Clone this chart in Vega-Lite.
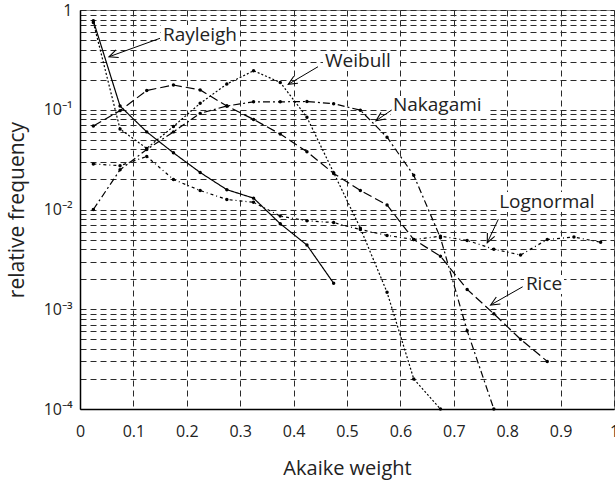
{
  "$schema": "https://vega.github.io/schema/vega-lite/v6.json",
  "width": 534,
  "height": 399,
  "autosize": "none",
  "padding": {"left": 80, "top": 10, "right": 1, "bottom": 81},
  "background": "white",
  "config": {
    "font": "Open Sans",
    "view": {"stroke": "#888", "strokeWidth": 1}
  },
  "datasets": {
    "freq": [
      {"dist": "Rayleigh", "w": 0.025, "f": 0.78},
      {"dist": "Rayleigh", "w": 0.075, "f": 0.109},
      {"dist": "Rayleigh", "w": 0.125, "f": 0.060},
      {"dist": "Rayleigh", "w": 0.175, "f": 0.037},
      {"dist": "Rayleigh", "w": 0.225, "f": 0.0235},
      {"dist": "Rayleigh", "w": 0.275, "f": 0.0158},
      {"dist": "Rayleigh", "w": 0.325, "f": 0.013},
      {"dist": "Rayleigh", "w": 0.375, "f": 0.0072},
      {"dist": "Rayleigh", "w": 0.425, "f": 0.0044},
      {"dist": "Rayleigh", "w": 0.475, "f": 0.00182},

      {"dist": "Weibull", "w": 0.025, "f": 0.75},
      {"dist": "Weibull", "w": 0.075, "f": 0.064},
      {"dist": "Weibull", "w": 0.125, "f": 0.041},
      {"dist": "Weibull", "w": 0.175, "f": 0.068},
      {"dist": "Weibull", "w": 0.225, "f": 0.116},
      {"dist": "Weibull", "w": 0.275, "f": 0.181},
      {"dist": "Weibull", "w": 0.325, "f": 0.246},
      {"dist": "Weibull", "w": 0.375, "f": 0.188},
      {"dist": "Weibull", "w": 0.425, "f": 0.084},
      {"dist": "Weibull", "w": 0.475, "f": 0.0234},
      {"dist": "Weibull", "w": 0.525, "f": 0.0065},
      {"dist": "Weibull", "w": 0.575, "f": 0.00148},
      {"dist": "Weibull", "w": 0.625, "f": 0.0002},
      {"dist": "Weibull", "w": 0.675, "f": 0.0001},

      {"dist": "Nakagami", "w": 0.025, "f": 0.010},
      {"dist": "Nakagami", "w": 0.075, "f": 0.025},
      {"dist": "Nakagami", "w": 0.125, "f": 0.040},
      {"dist": "Nakagami", "w": 0.175, "f": 0.060},
      {"dist": "Nakagami", "w": 0.225, "f": 0.092},
      {"dist": "Nakagami", "w": 0.275, "f": 0.109},
      {"dist": "Nakagami", "w": 0.325, "f": 0.120},
      {"dist": "Nakagami", "w": 0.375, "f": 0.120},
      {"dist": "Nakagami", "w": 0.425, "f": 0.121},
      {"dist": "Nakagami", "w": 0.475, "f": 0.115},
      {"dist": "Nakagami", "w": 0.525, "f": 0.099},
      {"dist": "Nakagami", "w": 0.575, "f": 0.053},
      {"dist": "Nakagami", "w": 0.625, "f": 0.022},
      {"dist": "Nakagami", "w": 0.675, "f": 0.0052},
      {"dist": "Nakagami", "w": 0.725, "f": 0.00061},
      {"dist": "Nakagami", "w": 0.775, "f": 0.0001},

      {"dist": "Lognormal", "w": 0.025, "f": 0.0286},
      {"dist": "Lognormal", "w": 0.075, "f": 0.0275},
      {"dist": "Lognormal", "w": 0.125, "f": 0.034},
      {"dist": "Lognormal", "w": 0.175, "f": 0.020},
      {"dist": "Lognormal", "w": 0.225, "f": 0.0155},
      {"dist": "Lognormal", "w": 0.275, "f": 0.0126},
      {"dist": "Lognormal", "w": 0.325, "f": 0.0118},
      {"dist": "Lognormal", "w": 0.375, "f": 0.0086},
      {"dist": "Lognormal", "w": 0.425, "f": 0.0077},
      {"dist": "Lognormal", "w": 0.475, "f": 0.0074},
      {"dist": "Lognormal", "w": 0.525, "f": 0.0063},
      {"dist": "Lognormal", "w": 0.575, "f": 0.0055},
      {"dist": "Lognormal", "w": 0.625, "f": 0.0050},
      {"dist": "Lognormal", "w": 0.675, "f": 0.0054},
      {"dist": "Lognormal", "w": 0.725, "f": 0.0049},
      {"dist": "Lognormal", "w": 0.775, "f": 0.0040},
      {"dist": "Lognormal", "w": 0.825, "f": 0.0035},
      {"dist": "Lognormal", "w": 0.875, "f": 0.0050},
      {"dist": "Lognormal", "w": 0.925, "f": 0.0053},
      {"dist": "Lognormal", "w": 0.975, "f": 0.0047},

      {"dist": "Rice", "w": 0.025, "f": 0.0687},
      {"dist": "Rice", "w": 0.075, "f": 0.098},
      {"dist": "Rice", "w": 0.125, "f": 0.156},
      {"dist": "Rice", "w": 0.175, "f": 0.177},
      {"dist": "Rice", "w": 0.225, "f": 0.158},
      {"dist": "Rice", "w": 0.275, "f": 0.109},
      {"dist": "Rice", "w": 0.325, "f": 0.080},
      {"dist": "Rice", "w": 0.375, "f": 0.057},
      {"dist": "Rice", "w": 0.425, "f": 0.038},
      {"dist": "Rice", "w": 0.475, "f": 0.023},
      {"dist": "Rice", "w": 0.525, "f": 0.0155},
      {"dist": "Rice", "w": 0.575, "f": 0.0111},
      {"dist": "Rice", "w": 0.625, "f": 0.0050},
      {"dist": "Rice", "w": 0.675, "f": 0.0034},
      {"dist": "Rice", "w": 0.725, "f": 0.00158},
      {"dist": "Rice", "w": 0.775, "f": 0.00090},
      {"dist": "Rice", "w": 0.825, "f": 0.00050},
      {"dist": "Rice", "w": 0.875, "f": 0.00030}
    ],
    "labels": [
      {"dist": "Rayleigh", "w": 0.1554, "f": 0.5615, "w1": 0.1517, "w2": 0.2996, "f1": 0.707, "f2": 0.426},
      {"dist": "Weibull", "w": 0.4588, "f": 0.308, "w1": 0.455, "w2": 0.5936, "f1": 0.388, "f2": 0.244},
      {"dist": "Nakagami", "w": 0.586, "f": 0.1116, "w1": 0.5824, "w2": 0.7622, "f1": 0.137, "f2": 0.0825},
      {"dist": "Lognormal", "w": 0.785, "f": 0.01189, "w1": 0.781, "w2": 0.968, "f1": 0.01499, "f2": 0.00942},
      {"dist": "Rice", "w": 0.835, "f": 0.00179, "w1": 0.8315, "w2": 0.9064, "f1": 0.00221, "f2": 0.001422}
    ],
    "pointers": [
      {"dist": "Rayleigh", "w": 0.1498, "f": 0.5203, "w2": 0.0543, "f2": 0.340},
      {"dist": "Weibull", "w": 0.4457, "f": 0.270, "w2": 0.390, "f2": 0.180},
      {"dist": "Nakagami", "w": 0.5837, "f": 0.0994, "w2": 0.5543, "f2": 0.0777},
      {"dist": "Lognormal", "w": 0.7833, "f": 0.00797, "w2": 0.7627, "f2": 0.00465},
      {"dist": "Rice", "w": 0.829, "f": 0.00168, "w2": 0.769, "f2": 0.001104}
    ]
  },
  "encoding": {
    "x": {
      "field": "w",
      "type": "quantitative",
      "scale": {"domain": [0, 1], "nice": false, "zero": false},
      "axis": {
        "title": "Akaike weight",
        "values": [0, 0.1, 0.2, 0.3, 0.4, 0.5, 0.6, 0.7, 0.8, 0.9, 1],
        "format": "~g",
        "grid": true,
        "gridColor": "#2a2a2a",
        "gridDash": [6, 4],
        "gridWidth": 1,
        "ticks": false,
        "domainColor": "black",
        "domainWidth": 1.5,
        "labelFont": "Open Sans",
        "labelFontSize": 16,
        "labelColor": "#222",
        "labelPadding": 14,
        "labelFlush": false,
        "labelOverlap": false,
        "titleFont": "Open Sans",
        "titleFontSize": 20,
        "titleFontWeight": "normal",
        "titleColor": "#222",
        "titlePadding": 19
      }
    },
    "y": {
      "field": "f",
      "type": "quantitative",
      "scale": {"type": "log", "domain": [0.0001, 1], "nice": false},
      "axis": {
        "title": "relative frequency",
        "values": [0.0001, 0.0002, 0.0003, 0.0004, 0.0005, 0.0006, 0.0007, 0.0008, 0.0009,
                   0.001, 0.002, 0.003, 0.004, 0.005, 0.006, 0.007, 0.008, 0.009,
                   0.01, 0.02, 0.03, 0.04, 0.05, 0.06, 0.07, 0.08, 0.09,
                   0.1, 0.2, 0.3, 0.4, 0.5, 0.6, 0.7, 0.8, 0.9, 1],
        "labelExpr": "datum.value == 1 ? '1' : datum.value == 0.1 ? '10⁻¹' : datum.value == 0.01 ? '10⁻²' : datum.value == 0.001 ? '10⁻³' : datum.value == 0.0001 ? '10⁻⁴' : ''",
        "grid": true,
        "gridColor": "#2a2a2a",
        "gridDash": [6, 4],
        "gridWidth": 1,
        "ticks": false,
        "domainColor": "black",
        "domainWidth": 1.5,
        "labelFont": "Open Sans",
        "labelFontSize": 16,
        "labelColor": "#222",
        "labelPadding": 8,
        "labelFlush": false,
        "labelOverlap": false,
        "titleFont": "Open Sans",
        "titleFontSize": 21,
        "titleFontWeight": "normal",
        "titleColor": "#222",
        "titlePadding": 16
      }
    }
  },
  "layer": [
    {
      "data": {"name": "labels"},
      "mark": {"type": "rect", "fill": "white", "stroke": null},
      "encoding": {
        "x": {"field": "w1", "type": "quantitative"},
        "x2": {"field": "w2"},
        "y": {"field": "f1", "type": "quantitative"},
        "y2": {"field": "f2"}
      }
    },
    {
      "data": {"name": "freq"},
      "mark": {
        "type": "line",
        "color": "black",
        "strokeWidth": 1.2,
        "point": {"filled": true, "size": 12, "color": "black"}
      },
      "encoding": {
        "detail": {"field": "dist", "type": "nominal"},
        "strokeDash": {
          "field": "dist",
          "type": "nominal",
          "scale": {
            "domain": ["Rayleigh", "Weibull", "Nakagami", "Lognormal", "Rice"],
            "range": [[1, 0], [2, 2], [7, 3, 2, 3], [3, 3, 1, 3], [9, 4]]
          },
          "legend": null
        }
      }
    },
    {
      "data": {"name": "pointers"},
      "mark": {"type": "rule", "color": "black", "strokeWidth": 1},
      "encoding": {
        "x2": {"field": "w2"},
        "y2": {"field": "f2"}
      }
    },
    {
      "data": {"name": "pointers"},
      "mark": {
        "type": "point",
        "shape": "M-0.5,1.1L0,0L0.5,1.1",
        "filled": false,
        "color": "black",
        "strokeWidth": 1.1,
        "opacity": 1,
        "size": 260
      },
      "encoding": {
        "x": {"field": "w2", "type": "quantitative"},
        "y": {"field": "f2", "type": "quantitative"},
        "angle": {
          "field": "dist",
          "type": "nominal",
          "scale": {
            "type": "ordinal",
            "domain": ["Rayleigh", "Weibull", "Nakagami", "Lognormal", "Rice"],
            "range": [250, 239, 236, 205, 240]
          },
          "legend": null
        }
      }
    },
    {
      "data": {"name": "labels"},
      "mark": {
        "type": "text",
        "align": "left",
        "baseline": "middle",
        "font": "Open Sans",
        "fontSize": 19,
        "color": "#222"
      },
      "encoding": {
        "text": {"field": "dist", "type": "nominal"}
      }
    }
  ]
}
